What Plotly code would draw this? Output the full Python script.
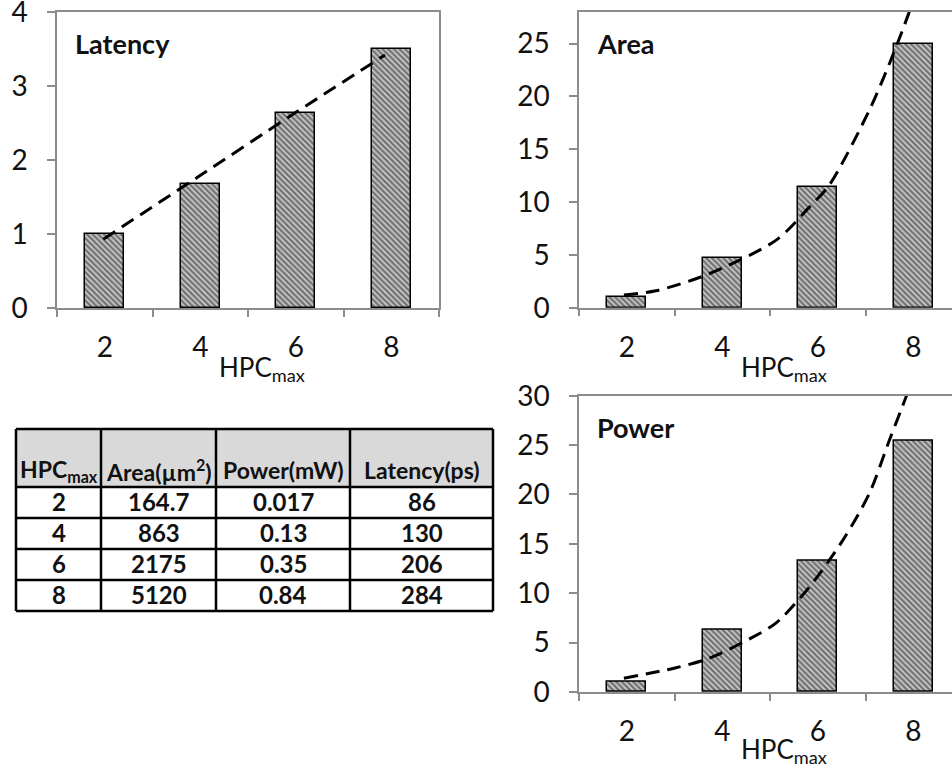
import plotly.graph_objects as go

# ---------------- data ----------------
hpc = [2, 4, 6, 8]
latency_norm = [1.0, 1.67, 2.63, 3.5]
area_norm = [1.0, 4.7, 11.45, 25.0]
power_norm = [1.0, 6.3, 13.3, 25.4]

# dashed trend lines (x in HPC units)
lat_trend_x = [1.97, 3.95, 5.9, 7.87]
lat_trend_y = [0.93, 1.77, 2.6, 3.42]
area_trend_x = [1.94, 2.61, 3.72, 5.13, 5.82, 6.24, 7.08, 7.5, 7.9, 8.1]
area_trend_y = [1.2, 1.6, 3.2, 6.4, 9.5, 11.6, 18.7, 23.1, 27.8, 30.5]
power_trend_x = [1.94, 3.03, 3.72, 4.56, 5.13, 5.82, 6.53, 7.08, 7.5, 7.85, 8.0]
power_trend_y = [1.4, 2.45, 3.4, 5.35, 7.0, 10.6, 15.4, 20.1, 25.5, 29.9, 32.0]

table_header = ["HPC<sub>max</sub>", "Area(µm<sup>2</sup>)", "Power(mW)", "Latency(ps)"]
table_hpc = ["2", "4", "6", "8"]
table_area = ["164.7", "863", "2175", "5120"]
table_power = ["0.017", "0.13", "0.35", "0.84"]
table_latency = ["86", "130", "206", "284"]

# ---------------- figure ----------------
W, H = 952, 769
FONT = "Lato"
fig = go.Figure()


def px(x):
    return x / W


def py(y):
    return 1 - y / H


bar_style = dict(
    color="white",
    line=dict(color="black", width=1.5),
    pattern=dict(shape="\\", size=4, solidity=0.62, fgcolor="#151515", bgcolor="#d0d0d0"),
)
dash_style = dict(color="black", width=3, dash="14px,8px", shape="spline", smoothing=0.8)

panels = [
    ("x", "y", latency_norm, lat_trend_x, lat_trend_y),
    ("x2", "y2", area_norm, area_trend_x, area_trend_y),
    ("x3", "y3", power_norm, power_trend_x, power_trend_y),
]
for xa, ya, vals, tx, ty in panels:
    fig.add_trace(go.Bar(x=hpc, y=vals, width=0.82, marker=bar_style,
                         xaxis=xa, yaxis=ya, showlegend=False, hoverinfo="skip"))
    fig.add_trace(go.Scatter(x=tx, y=ty, mode="lines", line=dash_style,
                             xaxis=xa, yaxis=ya, showlegend=False, hoverinfo="skip"))

axis_col = "#8c8c8c"
tickfont = dict(family=FONT, size=28, color="#111")


def xaxis(domain, rng, anchor):
    return dict(domain=domain, range=rng, anchor=anchor, tickmode="array",
                tickvals=hpc, ticktext=[str(v) for v in hpc], ticks="",
                showline=True, linecolor=axis_col, linewidth=1.5, mirror=True,
                showgrid=False, zeroline=False, tickfont=tickfont, automargin=False,
                ticklabelstandoff=14, ticklabeloverflow="allow",
                minor=dict(tickmode="array", tickvals=[1, 3, 5, 7, 9], ticks="outside",
                           ticklen=7, tickcolor=axis_col, tickwidth=1.5, showgrid=False))


def yaxis(domain, rng, dtick, anchor, mirror):
    return dict(domain=domain, range=rng, anchor=anchor, dtick=dtick, tick0=0,
                ticks="outside", ticklen=8, tickcolor=axis_col, tickwidth=1.5,
                showline=True, linecolor=axis_col, linewidth=1.5, mirror=mirror,
                showgrid=False, zeroline=False, tickfont=tickfont, automargin=False,
                ticklabelstandoff=14, ticklabeloverflow="allow")


fig.update_layout(
    width=W, height=H,
    margin=dict(l=0, r=0, t=0, b=0, autoexpand=False),
    paper_bgcolor="white", plot_bgcolor="white",
    font=dict(family=FONT, color="#111"),
    bargap=0,
    xaxis=xaxis([px(57), px(439)], [1, 9], "y"),
    yaxis=yaxis([py(308), py(12)], [0, 4], 1, "x", True),
    xaxis2=xaxis([px(579), 1.0], [1, 1 + (952 - 579) / 47.75], "y2"),
    yaxis2=yaxis([py(307.7), py(12)], [0, 28], 5, "x2", False),
    xaxis3=xaxis([px(579), 1.0], [1, 1 + (952 - 579) / 47.75], "y3"),
    yaxis3=yaxis([py(692), py(395.7)], [0, 30], 5, "x3", False),
)

# panel titles and axis titles
titles = [("Latency", 73, 43), ("Area", 595, 43), ("Power", 595, 427)]
for txt, x, y in titles:
    fig.add_annotation(text="<b>" + txt + "</b>", x=px(x), y=py(y), xref="paper", yref="paper",
                       xanchor="left", yanchor="middle", showarrow=False,
                       font=dict(family=FONT, size=27, color="#111"))
for x, y in [(262, 368), (784, 368), (784, 750)]:
    fig.add_annotation(text="HPC<sub>max</sub>", x=px(x), y=py(y), xref="paper", yref="paper",
                       xanchor="center", yanchor="middle", showarrow=False,
                       font=dict(family=FONT, size=26, color="#111"))

# ---------------- table (cells drawn as shapes + text) ----------------
col_edges = [16, 101, 216, 350, 493]
row_edges = [429, 487, 518, 549, 580, 611]
columns = [table_hpc, table_area, table_power, table_latency]

# header background
fig.add_shape(type="rect", xref="paper", yref="paper",
              x0=px(col_edges[0]), x1=px(col_edges[-1]),
              y0=py(row_edges[1]), y1=py(row_edges[0]),
              fillcolor="#d9d9d9", line=dict(width=0), layer="below")
# grid lines
for xe in col_edges:
    fig.add_shape(type="line", xref="paper", yref="paper",
                  x0=px(xe), x1=px(xe), y0=py(row_edges[-1]), y1=py(row_edges[0]),
                  line=dict(color="black", width=2.5))
for ye in row_edges:
    fig.add_shape(type="line", xref="paper", yref="paper",
                  x0=px(col_edges[0]), x1=px(col_edges[-1]), y0=py(ye), y1=py(ye),
                  line=dict(color="black", width=2.5))

for ci, head in enumerate(table_header):
    cx = (col_edges[ci] + col_edges[ci + 1]) / 2
    fig.add_annotation(text="<b>" + head + "</b>", x=px(cx), y=py(470), xref="paper", yref="paper",
                       xanchor="center", yanchor="middle", showarrow=False,
                       font=dict(family=FONT, size=23, color="#111"))
    for ri, val in enumerate(columns[ci]):
        cy = (row_edges[ri + 1] + row_edges[ri + 2]) / 2 - 1
        fig.add_annotation(text="<b>" + val + "</b>", x=px(cx), y=py(cy), xref="paper", yref="paper",
                           xanchor="center", yanchor="middle", showarrow=False,
                           font=dict(family=FONT, size=24, color="#111"))

fig.write_html("out.html", config={"displayModeBar": False},
               post_script="document.body.style.margin='0';document.body.style.overflow='hidden';")
